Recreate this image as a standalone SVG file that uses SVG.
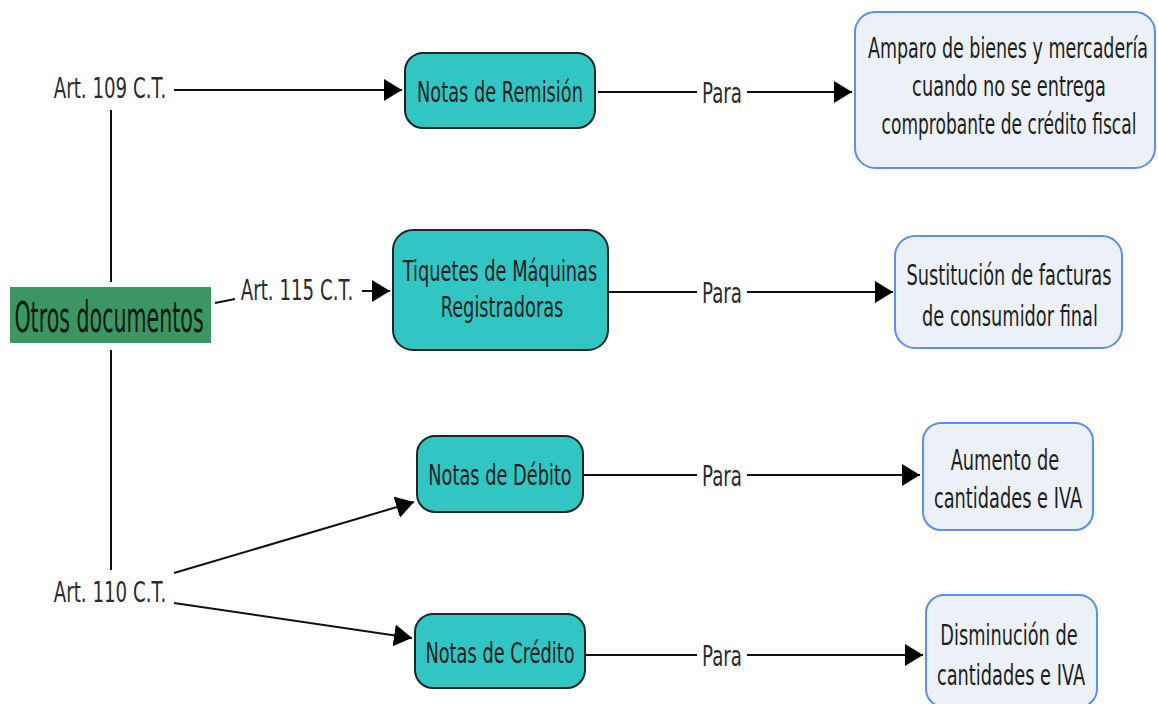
<svg xmlns="http://www.w3.org/2000/svg" width="1158" height="704" viewBox="0 0 1158 704">
  <style>
    text { font-family: "DejaVu Sans", Verdana, sans-serif; font-size: 28px; text-anchor: middle; fill: #1e1e1e; }
    .lbl { fill: #2b2b2b; }
    .big { font-size: 42px; fill: #0d1a10; }
    .doc rect { fill: #31c6c3; stroke: #1c2626; stroke-width: 2; }
    .use rect { fill: #ebf1f6; stroke: #5b8df2; stroke-width: 2; }
    .root rect { fill: #3a9663; }
    .edge { fill: none; stroke: #111; stroke-width: 2; }
  </style>
  <defs>
    <marker id="arrow" markerUnits="userSpaceOnUse" markerWidth="20" markerHeight="24" refX="18" refY="11" orient="auto">
      <path d="M0,0 L18,11 L0,22 z" fill="#000"/>
    </marker>
  </defs>

  <!-- connectors; text is set in a narrow face by scaling x only -->
  <g id="connectors">
    <path class="edge" d="M111,110 V282"/>
    <path class="edge" d="M111,350 V570"/>
    <path class="edge" d="M174,90 H402" marker-end="url(#arrow)"/>
    <path class="edge" d="M215,303 L235,299"/>
    <path class="edge" d="M362,291 H390" marker-end="url(#arrow)"/>
    <path class="edge" d="M174,573 L414,502" marker-end="url(#arrow)"/>
    <path class="edge" d="M174,603 L412,638" marker-end="url(#arrow)"/>
    <path class="edge" d="M598,92 H697"/>
    <path class="edge" d="M747,92 H852" marker-end="url(#arrow)"/>
    <path class="edge" d="M608,292 H697"/>
    <path class="edge" d="M747,292 H893" marker-end="url(#arrow)"/>
    <path class="edge" d="M583,475 H697"/>
    <path class="edge" d="M747,475 H920" marker-end="url(#arrow)"/>
    <path class="edge" d="M585,655 H697"/>
    <path class="edge" d="M747,655 H923" marker-end="url(#arrow)"/>
    <text class="lbl" transform="matrix(0.65 0 0 1 722 103)">Para</text>
    <text class="lbl" transform="matrix(0.65 0 0 1 722 303)">Para</text>
    <text class="lbl" transform="matrix(0.65 0 0 1 722 486)">Para</text>
    <text class="lbl" transform="matrix(0.65 0 0 1 722 666)">Para</text>
  </g>

  <!-- root -->
  <g id="otros-documentos" class="root">
    <rect x="10" y="287" width="201" height="56"/>
    <text class="big" transform="matrix(0.49 0 0 1 109 332)">Otros documentos</text>
  </g>

  <!-- article labels -->
  <g id="art-109">
    <text class="lbl" transform="matrix(0.65 0 0 1 110 98)">Art. 109 C.T.</text>
  </g>
  <g id="art-115">
    <text class="lbl" transform="matrix(0.65 0 0 1 297 300)">Art. 115 C.T.</text>
  </g>
  <g id="art-110">
    <text class="lbl" transform="matrix(0.65 0 0 1 110 602)">Art. 110 C.T.</text>
  </g>

  <!-- documents -->
  <g id="notas-remision" class="doc">
    <rect x="405" y="53" width="190" height="75" rx="18"/>
    <text transform="matrix(0.635 0 0 1 500 102)">Notas de Remisión</text>
  </g>
  <g id="tiquetes" class="doc">
    <rect x="393" y="230" width="215" height="120" rx="20"/>
    <text transform="matrix(0.635 0 0 1 500 281)">Tiquetes de Máquinas</text>
    <text transform="matrix(0.635 0 0 1 502 317)">Registradoras</text>
  </g>
  <g id="notas-debito" class="doc">
    <rect x="417" y="436" width="166" height="76" rx="18"/>
    <text transform="matrix(0.635 0 0 1 500 485)">Notas de Débito</text>
  </g>
  <g id="notas-credito" class="doc">
    <rect x="415" y="614" width="170" height="74" rx="18"/>
    <text transform="matrix(0.635 0 0 1 500 663)">Notas de Crédito</text>
  </g>

  <!-- purposes -->
  <g id="amparo" class="use">
    <rect x="855" y="12" width="300" height="156" rx="20"/>
    <text transform="matrix(0.625 0 0 1 1008 58)">Amparo de bienes y mercadería</text>
    <text transform="matrix(0.635 0 0 1 1009 96)">cuando no se entrega</text>
    <text transform="matrix(0.61 0 0 1 1009 134)">comprobante de crédito fiscal</text>
  </g>
  <g id="sustitucion" class="use">
    <rect x="895" y="236" width="227" height="112" rx="20"/>
    <text transform="matrix(0.635 0 0 1 1009 285)">Sustitución de facturas</text>
    <text transform="matrix(0.635 0 0 1 1010 326)">de consumidor final</text>
  </g>
  <g id="aumento" class="use">
    <rect x="923" y="423" width="170" height="107" rx="18"/>
    <text transform="matrix(0.635 0 0 1 1005 470)">Aumento de</text>
    <text transform="matrix(0.635 0 0 1 1008 508)">cantidades e IVA</text>
  </g>
  <g id="disminucion" class="use">
    <rect x="926" y="595" width="171" height="112" rx="18"/>
    <text transform="matrix(0.635 0 0 1 1009 645)">Disminución de</text>
    <text transform="matrix(0.635 0 0 1 1011 685)">cantidades e IVA</text>
  </g>
</svg>
